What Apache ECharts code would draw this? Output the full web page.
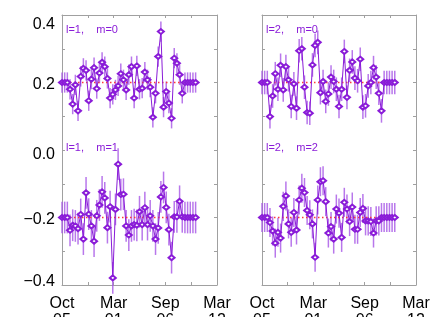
<!DOCTYPE html>
<html><head><meta charset="utf-8">
<script src="https://cdn.jsdelivr.net/npm/echarts@6/dist/echarts.min.js"></script>
<style>html,body{margin:0;padding:0;background:#fff}#c{width:443px;height:317px}</style>
</head><body><div id="c"></div>
<script>
// x: sample index (0..50); axis spans 58 samples split into 6 tick intervals
const xTickLabels = ['Oct\n05', 'Mar\n01', 'Sep\n06', 'Mar\n12'];
const yTickLabels = { '-4': '−0.4', '-2': '−0.2', '0': '0.0', '2': '0.2', '4': '0.4' };
const panelLabels = ['l=1,    m=0', 'l=1,    m=1', 'l=2,    m=0', 'l=2,    m=2'];
const refLevels = [0.2, -0.2];

const l1m0 = [0.200,0.200,0.200,
  0.180,0.136,0.193,0.116,0.218,0.242,0.236,0.146,0.210,0.244,0.182,0.228,0.260,0.247,0.212,
  0.154,0.165,0.178,0.190,0.226,0.208,0.178,0.223,0.247,0.154,0.249,0.180,0.183,0.231,0.208,
  0.186,0.097,0.168,0.277,0.351,0.127,0.173,0.139,0.094,0.272,0.257,0.223,0.168,
  0.200,0.200,0.200,0.200,0.200];
const l1m1 = [-0.200,-0.200,-0.200,
  -0.238,-0.223,-0.225,-0.233,-0.191,-0.264,-0.127,-0.190,-0.225,-0.270,-0.195,-0.163,-0.124,
  -0.142,-0.230,-0.168,-0.379,-0.176,-0.042,-0.132,-0.131,-0.225,-0.252,-0.225,-0.221,-0.223,
  -0.183,-0.221,-0.171,-0.221,-0.195,-0.225,-0.264,-0.231,-0.139,-0.111,-0.170,-0.236,-0.319,
  -0.198,-0.198,-0.152,-0.198,
  -0.200,-0.200,-0.200,-0.200,-0.200];
const l2m0 = [0.200,0.200,0.200,
  0.099,0.160,0.226,0.180,0.251,0.178,0.247,0.208,0.129,0.196,0.124,0.294,0.300,0.186,0.111,
  0.109,0.252,0.310,0.319,0.170,0.203,0.144,0.166,0.216,0.203,0.180,0.129,0.180,0.292,0.156,
  0.236,0.261,0.213,0.205,0.269,0.127,0.131,0.190,0.200,0.244,0.216,0.168,0.116,
  0.200,0.200,0.200,0.200,0.200];
const l2m2 = [-0.200,-0.200,-0.200,
  -0.215,-0.240,-0.276,-0.244,-0.261,-0.167,-0.136,-0.219,-0.244,-0.185,-0.237,-0.148,-0.113,
  -0.126,-0.179,-0.192,-0.219,-0.318,-0.148,-0.094,-0.091,-0.153,-0.246,-0.227,-0.264,-0.175,
  -0.187,-0.259,-0.155,-0.175,-0.212,-0.169,-0.235,-0.235,-0.185,-0.173,-0.210,-0.210,-0.212,
  -0.246,-0.210,-0.210,-0.200,
  -0.200,-0.200,-0.200,-0.200,-0.200];
const errL1M0 = 0.030, errL1M1 = 0.047, errL2M0 = 0.035, errL2M2 = 0.043;

const PURPLE = '#8a1cd8';
const ERRC = '#a655e6';
const FRAME = '#a0a0a0';
const XMAX = 58, XINT = 58 / 6;
const FONT = 'Liberation Sans';

function xAx(grid, pos, showLabel) {
  return {
    type: 'value', gridIndex: grid, position: pos, min: 0, max: XMAX, interval: XINT,
    axisLine: { show: true, onZero: false, lineStyle: { color: FRAME, width: 1 } },
    axisTick: { show: true, inside: true, length: 3, lineStyle: { color: FRAME } },
    splitLine: { show: false },
    axisLabel: {
      show: showLabel, margin: 10, color: '#000', fontSize: 16, lineHeight: 17,
      fontFamily: FONT, verticalAlign: 'top',
      formatter: v => { const k = Math.round(v / XINT); return k % 2 === 0 ? xTickLabels[k / 2] : ''; }
    }
  };
}
function yAx(grid, pos, showLabel) {
  const base = { fontSize: 16, fontFamily: FONT, color: '#000', lineHeight: 16 };
  return {
    type: 'value', gridIndex: grid, position: pos, min: -0.4, max: 0.4, interval: 0.1,
    axisLine: { show: true, onZero: false, lineStyle: { color: FRAME, width: 1 } },
    axisTick: { show: true, inside: true, length: 3, lineStyle: { color: FRAME } },
    splitLine: { show: false },
    axisLabel: {
      show: showLabel, margin: 7, color: '#000', fontSize: 16, fontFamily: FONT,
      verticalAlign: 'middle',
      formatter: v => {
        const k = Math.round(v * 10);
        if (k % 2 !== 0) return '';
        const s = yTickLabels[String(k)];
        const key = k === 4 ? 't' : (k === -4 ? 'b' : (k === 0 ? 'z' : 'n'));
        return '{' + key + '|' + s + '}';
      },
      rich: {
        t: Object.assign({ padding: [20, 0, 0, 0] }, base),
        b: Object.assign({ padding: [0, 0, 6, 0] }, base),
        z: Object.assign({ padding: [10, 0, 0, 0] }, base),
        n: Object.assign({ padding: [4, 0, 0, 0] }, base)
      }
    }
  };
}

function errSeries(ax, data, err) {
  return {
    type: 'custom', xAxisIndex: ax, yAxisIndex: ax, silent: true, z: 1,
    data: data.map((v, i) => [i, v - err, v + err]),
    encode: { x: 0, y: [1, 2] },
    renderItem: (params, api) => {
      const p1 = api.coord([api.value(0), api.value(1)]);
      const p2 = api.coord([api.value(0), api.value(2)]);
      return { type: 'line', shape: { x1: p1[0], y1: p1[1], x2: p2[0], y2: p2[1] },
        style: { stroke: ERRC, lineWidth: 1.5, opacity: 0.8 } };
    }
  };
}
function refSeries(ax, level, n) {
  return {
    type: 'line', xAxisIndex: ax, yAxisIndex: ax, silent: true, z: 2, symbol: 'none',
    data: [[0, level], [n - 1, level]],
    lineStyle: { color: '#ff3a3a', type: [1.5, 2.5], width: 1.5 }
  };
}
function mainSeries(ax, data) {
  return {
    type: 'line', xAxisIndex: ax, yAxisIndex: ax, silent: true, z: 3,
    data: data.map((v, i) => [i, v]),
    symbol: 'emptyDiamond', symbolSize: [6, 5], showAllSymbol: true,
    lineStyle: { color: PURPLE, width: 1 },
    itemStyle: { color: PURPLE, borderColor: PURPLE, borderWidth: 1 }
  };
}

const chart = echarts.init(document.getElementById('c'), null, { renderer: 'canvas' });
const n = l1m0.length;
chart.setOption({
  animation: false,
  backgroundColor: '#fff',
  grid: [
    { left: 62, top: 15, width: 155, height: 270, containLabel: false, outerBoundsMode: 'none' },
    { left: 262, top: 15, width: 154, height: 270, containLabel: false, outerBoundsMode: 'none' }
  ],
  xAxis: [xAx(0, 'bottom', true), xAx(1, 'bottom', true), xAx(0, 'top', false), xAx(1, 'top', false)],
  yAxis: [yAx(0, 'left', true), yAx(1, 'left', false), yAx(0, 'right', false), yAx(1, 'right', false)],
  series: [
    errSeries(0, l1m0, errL1M0), errSeries(0, l1m1, errL1M1),
    errSeries(1, l2m0, errL2M0), errSeries(1, l2m2, errL2M2),
    refSeries(0, refLevels[0], n), refSeries(0, refLevels[1], n),
    refSeries(1, refLevels[0], n), refSeries(1, refLevels[1], n),
    mainSeries(0, l1m0), mainSeries(0, l1m1), mainSeries(1, l2m0), mainSeries(1, l2m2)
  ],
  graphic: [
    { type: 'text', x: 66, y: 30, style: { text: panelLabels[0], fill: PURPLE, font: '11px "Liberation Sans"', verticalAlign: 'middle' } },
    { type: 'text', x: 66, y: 148, style: { text: panelLabels[1], fill: PURPLE, font: '11px "Liberation Sans"', verticalAlign: 'middle' } },
    { type: 'text', x: 266, y: 30, style: { text: panelLabels[2], fill: PURPLE, font: '11px "Liberation Sans"', verticalAlign: 'middle' } },
    { type: 'text', x: 266, y: 148, style: { text: panelLabels[3], fill: PURPLE, font: '11px "Liberation Sans"', verticalAlign: 'middle' } }
  ]
});
</script></body></html>
